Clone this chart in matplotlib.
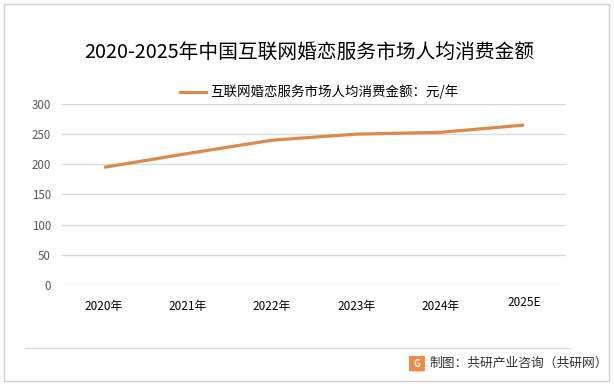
import matplotlib
matplotlib.use("Agg")
import matplotlib.pyplot as plt
from matplotlib.patches import Rectangle, FancyBboxPatch
from matplotlib.lines import Line2D

plt.rcParams['font.family'] = ['Noto Sans CJK SC', 'DejaVu Sans']

years = ['2020年', '2021年', '2022年', '2023年', '2024年', '2025E']
spend = [195, 218, 240, 250, 253, 265]
series_name = '互联网婚恋服务市场人均消费金额：元/年'
title = '2020-2025年中国互联网婚恋服务市场人均消费金额'
source = '制图：共研产业咨询（共研网）'

line_color = '#DB8A4C'
grid_color = '#D9D9D9'
text_color = '#595959'

fig = plt.figure(figsize=(6.14, 3.86), dpi=100)
ax = fig.add_axes([0.101, 0.2617, 0.821, 0.4689])

x = list(range(len(years)))
ax.plot(x, spend, color=line_color, lw=2.3, solid_capstyle='butt',
        label=series_name)

ax.set_xlim(-0.5, len(years) - 0.5)
ax.set_ylim(0, 300)
ax.set_yticks(range(0, 301, 50))
ax.yaxis.grid(True, color=grid_color, lw=0.9)
ax.set_axisbelow(True)
for s in ax.spines.values():
    s.set_visible(False)
ax.tick_params(axis='y', length=0, pad=8, labelsize=8.3, labelcolor=text_color)

ax.set_xticks(x)
ax.set_xticklabels(years, fontsize=8.5, color='black')
ax.tick_params(axis='x', length=0, pad=11)
# the estimate label sits a little higher in the original
ax.get_xticklabels()[-1].set_y(0.025)

fig.text(0.503, 0.865, title, ha='center', va='center', fontsize=14.2, color='black')

h = Line2D([0], [0], color=line_color, lw=2.3)
fig.legend([h], [series_name], loc='center', bbox_to_anchor=(0.52, 0.762),
           frameon=False, fontsize=9.7, handlelength=1.9, handletextpad=0.3)

# outer frame and footer separator
fig.add_artist(Rectangle((0.006, 0.013), 0.986, 0.977, transform=fig.transFigure,
                         fill=False, ec='#D0D0D0', lw=1))
fig.add_artist(Line2D([0.04, 0.93], [0.098, 0.098], transform=fig.transFigure,
                      color='#D9D9D9', lw=0.8))

# footer logo + source
fig.add_artist(FancyBboxPatch((0.668, 0.04), 0.022, 0.036,
                              boxstyle='round,pad=0.002', transform=fig.transFigure,
                              fc='#EE8A4A', ec='none'))
fig.text(0.679, 0.058, 'G', ha='center', va='center', fontsize=7,
         color='white', fontweight='bold')
fig.text(0.700, 0.058, source, ha='left', va='center', fontsize=9.2, color='#333333')

fig.savefig('out.png', dpi=100)
